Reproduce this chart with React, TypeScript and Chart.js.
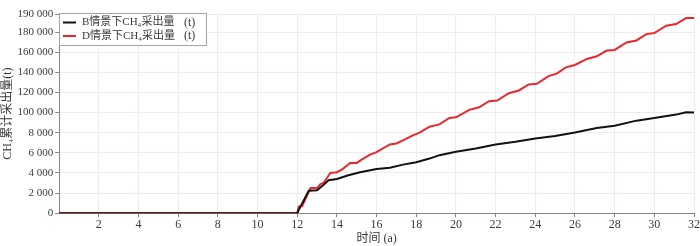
import React, { useEffect, useRef } from 'react';
import { Chart, registerables } from 'chart.js';

Chart.register(...registerables);

// 时间 (a) and cumulative CH4 output (t)
const blackX = [0, 12.0, 12.1, 12.58, 13.0, 13.33, 13.58, 14.0, 14.58, 15.17, 16.0, 16.67, 17.33, 18.0, 18.67, 19.17, 20.0, 21.0, 22.0, 23.0, 24.0, 25.0, 26.0, 27.1, 28.0, 29.1, 30.0, 31.1, 31.6, 32.0];
const blackY = [0, 0, 400, 2230, 2280, 2830, 3270, 3400, 3770, 4070, 4400, 4520, 4830, 5070, 5430, 5770, 6100, 6430, 6830, 7100, 7430, 7680, 8030, 8470, 8700, 9200, 9470, 9800, 10030, 10000];

const redX = [0, 12.0, 12.08, 12.25, 12.67, 13.0, 13.17, 13.33, 13.67, 14.0, 14.25, 14.67, 15.0, 15.25, 15.67, 16.0, 16.67, 17.0, 17.33, 17.83, 18.17, 18.67, 19.17, 19.67, 20.0, 20.67, 21.17, 21.67, 22.08, 22.67, 23.17, 23.67, 24.08, 24.67, 25.08, 25.54, 26.0, 26.6, 27.1, 27.6, 28.0, 28.6, 29.1, 29.6, 30.0, 30.6, 31.1, 31.6, 32.0];
const redY = [0, 0, 670, 700, 2500, 2500, 2900, 3000, 4000, 4070, 4330, 5000, 5000, 5330, 5830, 6070, 6830, 6930, 7230, 7730, 8000, 8600, 8830, 9470, 9530, 10270, 10530, 11130, 11200, 11930, 12200, 12800, 12870, 13630, 13870, 14500, 14730, 15330, 15600, 16170, 16230, 16970, 17170, 17800, 17900, 18630, 18800, 19400, 19400];

const seriesLabels = ['B情景下CH₄采出量', 'D情景下CH₄采出量'];
const unitLabel = '(t)';
const yTitle = 'CH₄累计采出量(t)';
const xTitle = '时间 (a)';

const yTickValues = [0, 2000, 4000, 6000, 8000, 10000, 12000, 14000, 16000, 18000, 19800];
const yTickLabels = ['0', '2 000', '4 000', '6 000', '8 000', '100 000', '120 000', '140 000', '160 000', '180 000', '190 000'];
const xTickValues = [2, 4, 6, 8, 10, 12, 14, 16, 18, 20, 22, 24, 26, 28, 30, 32];

const FONT = "'Liberation Serif', 'Noto Sans CJK SC', serif";

const legendBoxPlugin = {
  id: 'legendBox',
  afterDatasetsDraw(chart: any) {
    const { ctx, chartArea } = chart;
    const x0 = Math.round(chartArea.left);
    const y0 = Math.round(chartArea.top) - 1;
    const w = 147;
    const h = 32;
    ctx.save();
    ctx.fillStyle = '#ffffff';
    ctx.fillRect(x0, y0, w, h);
    ctx.strokeStyle = '#aaa3a0';
    ctx.lineWidth = 1;
    ctx.strokeRect(x0 + 0.5, y0 + 0.5, w, h);
    chart.data.datasets.forEach((ds: any, i: number) => {
      const cy = y0 + 9.5 + i * 13.5;
      ctx.strokeStyle = ds.borderColor;
      ctx.lineWidth = 2;
      ctx.beginPath();
      ctx.moveTo(x0 + 4, cy);
      ctx.lineTo(x0 + 17, cy);
      ctx.stroke();
      ctx.fillStyle = '#3a3a3a';
      ctx.font = `11px ${FONT}`;
      ctx.textBaseline = 'middle';
      ctx.textAlign = 'left';
      ctx.fillText(ds.label, x0 + 23, cy);
      ctx.font = `12px ${FONT}`;
      ctx.fillText(unitLabel, x0 + 125, cy);
    });
    ctx.restore();
  },
};

export default function App() {
  const ref = useRef<HTMLCanvasElement | null>(null);

  useEffect(() => {
    if (!ref.current) return;
    const chart = new Chart(ref.current, {
      type: 'line',
      data: {
        datasets: [
          {
            label: seriesLabels[0],
            data: blackX.map((x, i) => ({ x, y: blackY[i] })),
            borderColor: '#111111',
            borderWidth: 2,
            pointRadius: 0,
            tension: 0,
            fill: false,
          },
          {
            label: seriesLabels[1],
            data: redX.map((x, i) => ({ x, y: redY[i] })),
            borderColor: '#e8282c',
            borderWidth: 2,
            pointRadius: 0,
            tension: 0,
            fill: false,
          },
        ],
      },
      options: {
        animation: false,
        responsive: true,
        maintainAspectRatio: false,
        layout: { padding: { top: 14, right: 0, bottom: 0, left: 0 } },
        plugins: {
          legend: { display: false },
          tooltip: { enabled: false },
        },
        scales: {
          x: {
            type: 'linear',
            min: 0,
            max: 32,
            afterBuildTicks: (scale: any) => {
              scale.ticks = xTickValues.map((v) => ({ value: v }));
            },
            ticks: {
              color: '#3a3a3a',
              font: { family: FONT, size: 12 },
              padding: 0,
              maxRotation: 0,
              autoSkip: false,
            },
            grid: {
              color: '#f1eaea',
              tickColor: '#8c8282',
              tickLength: 4,
            },
            border: { color: '#8c8282', width: 1 },
            title: {
              display: true,
              text: xTitle,
              color: '#3a3a3a',
              font: { family: FONT, size: 12 },
              padding: { top: 0, bottom: 0 },
            },
          },
          y: {
            type: 'linear',
            min: 0,
            max: 19800,
            afterBuildTicks: (scale: any) => {
              scale.ticks = yTickValues.map((v) => ({ value: v }));
            },
            ticks: {
              color: '#3a3a3a',
              font: { family: FONT, size: 11 },
              padding: 2,
              autoSkip: false,
              callback: (_v: any, index: number) => yTickLabels[index],
            },
            grid: {
              color: '#f1eaea',
              tickColor: '#8c8282',
              tickLength: 4,
            },
            border: { color: '#8c8282', width: 1 },
            title: {
              display: true,
              text: yTitle,
              color: '#3a3a3a',
              font: { family: FONT, size: 12 },
              padding: { top: 1, bottom: 0 },
            },
          },
        },
      },
      plugins: [legendBoxPlugin],
    } as any);
    return () => chart.destroy();
  }, []);

  return (
    <div style={{ position: 'fixed', left: 0, top: 0, width: 700, height: 246, background: '#fff' }}>
      <canvas ref={ref} />
    </div>
  );
}
